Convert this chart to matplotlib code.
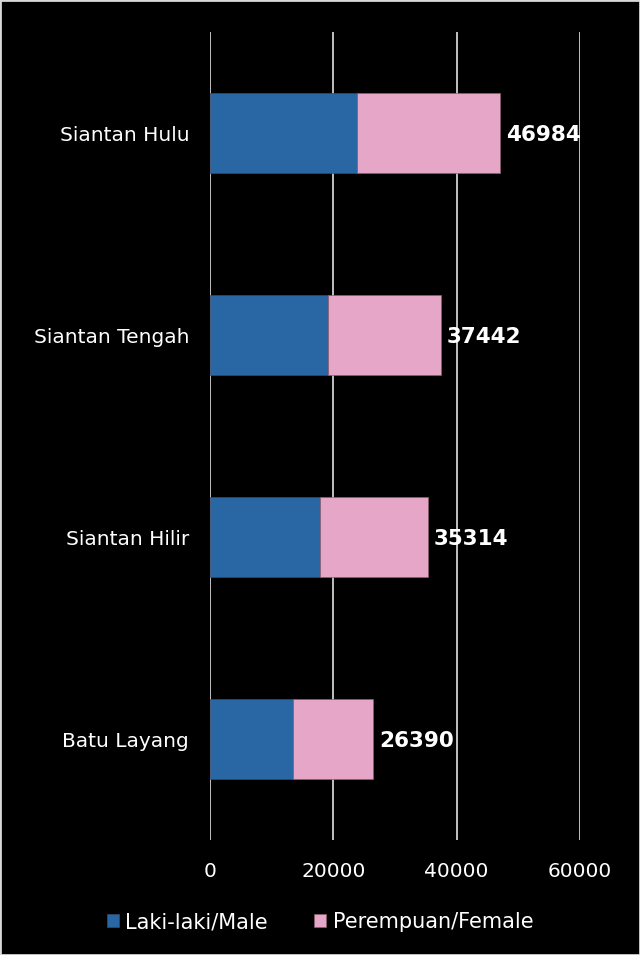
import matplotlib.pyplot as plt
import numpy as np

plt.rcParams['font.family'] = ['DejaVu Sans']

kecamatan = ['Siantan Hulu', 'Siantan Tengah', 'Siantan Hilir', 'Batu Layang']
male = [23830, 19110, 17815, 13390]
female = [23154, 18332, 17499, 13000]
total = [46984, 37442, 35314, 26390]

blue = '#2867a4'
pink = '#e6a6c8'

fig = plt.figure(figsize=(6.4, 9.55), dpi=100, facecolor='black')
ax = fig.add_axes([210/640, 1-840/955, 370/640, 808/955])
ax.set_facecolor('black')

y = np.arange(len(kecamatan))
ax.barh(y, male, height=0.4, color=blue, edgecolor='#3a4a6a', linewidth=0.5,
        label='Laki-laki/Male', zorder=3)
ax.barh(y, female, left=male, height=0.4, color=pink, edgecolor='#8a6070',
        linewidth=0.5, label='Perempuan/Female', zorder=3)

for i, t in enumerate(total):
    ax.text(t + 1000, y[i] + 0.01, str(t), color='white', fontsize=15.5,
            fontweight='bold', va='center', ha='left', zorder=4)

ax.set_xlim(0, 60000)
ax.set_ylim(len(kecamatan) - 0.5, -0.5)
ax.set_xticks([0, 20000, 40000, 60000])
ax.set_yticks(y)
ax.set_yticklabels(kecamatan)
ax.tick_params(colors='white', labelsize=14.5, length=0)
ax.tick_params(axis='y', pad=15)
ax.tick_params(axis='x', pad=16)
ax.grid(axis='x', color='#d0d0d0', linewidth=1.3, zorder=0)
for s in ax.spines.values():
    s.set_visible(False)

leg = fig.legend(loc='center', bbox_to_anchor=(0.5, 1-922/955), ncol=2,
                 frameon=False, fontsize=15, labelcolor='white',
                 handlelength=0.6, handleheight=0.6, handletextpad=0.3,
                 columnspacing=2.2)

# border
fig.patches.append(plt.Rectangle((0, 0), 1, 1, transform=fig.transFigure,
                                 fill=False, edgecolor='#d8d8d8', linewidth=2))

fig.savefig('out.png', dpi=100, facecolor='black')
